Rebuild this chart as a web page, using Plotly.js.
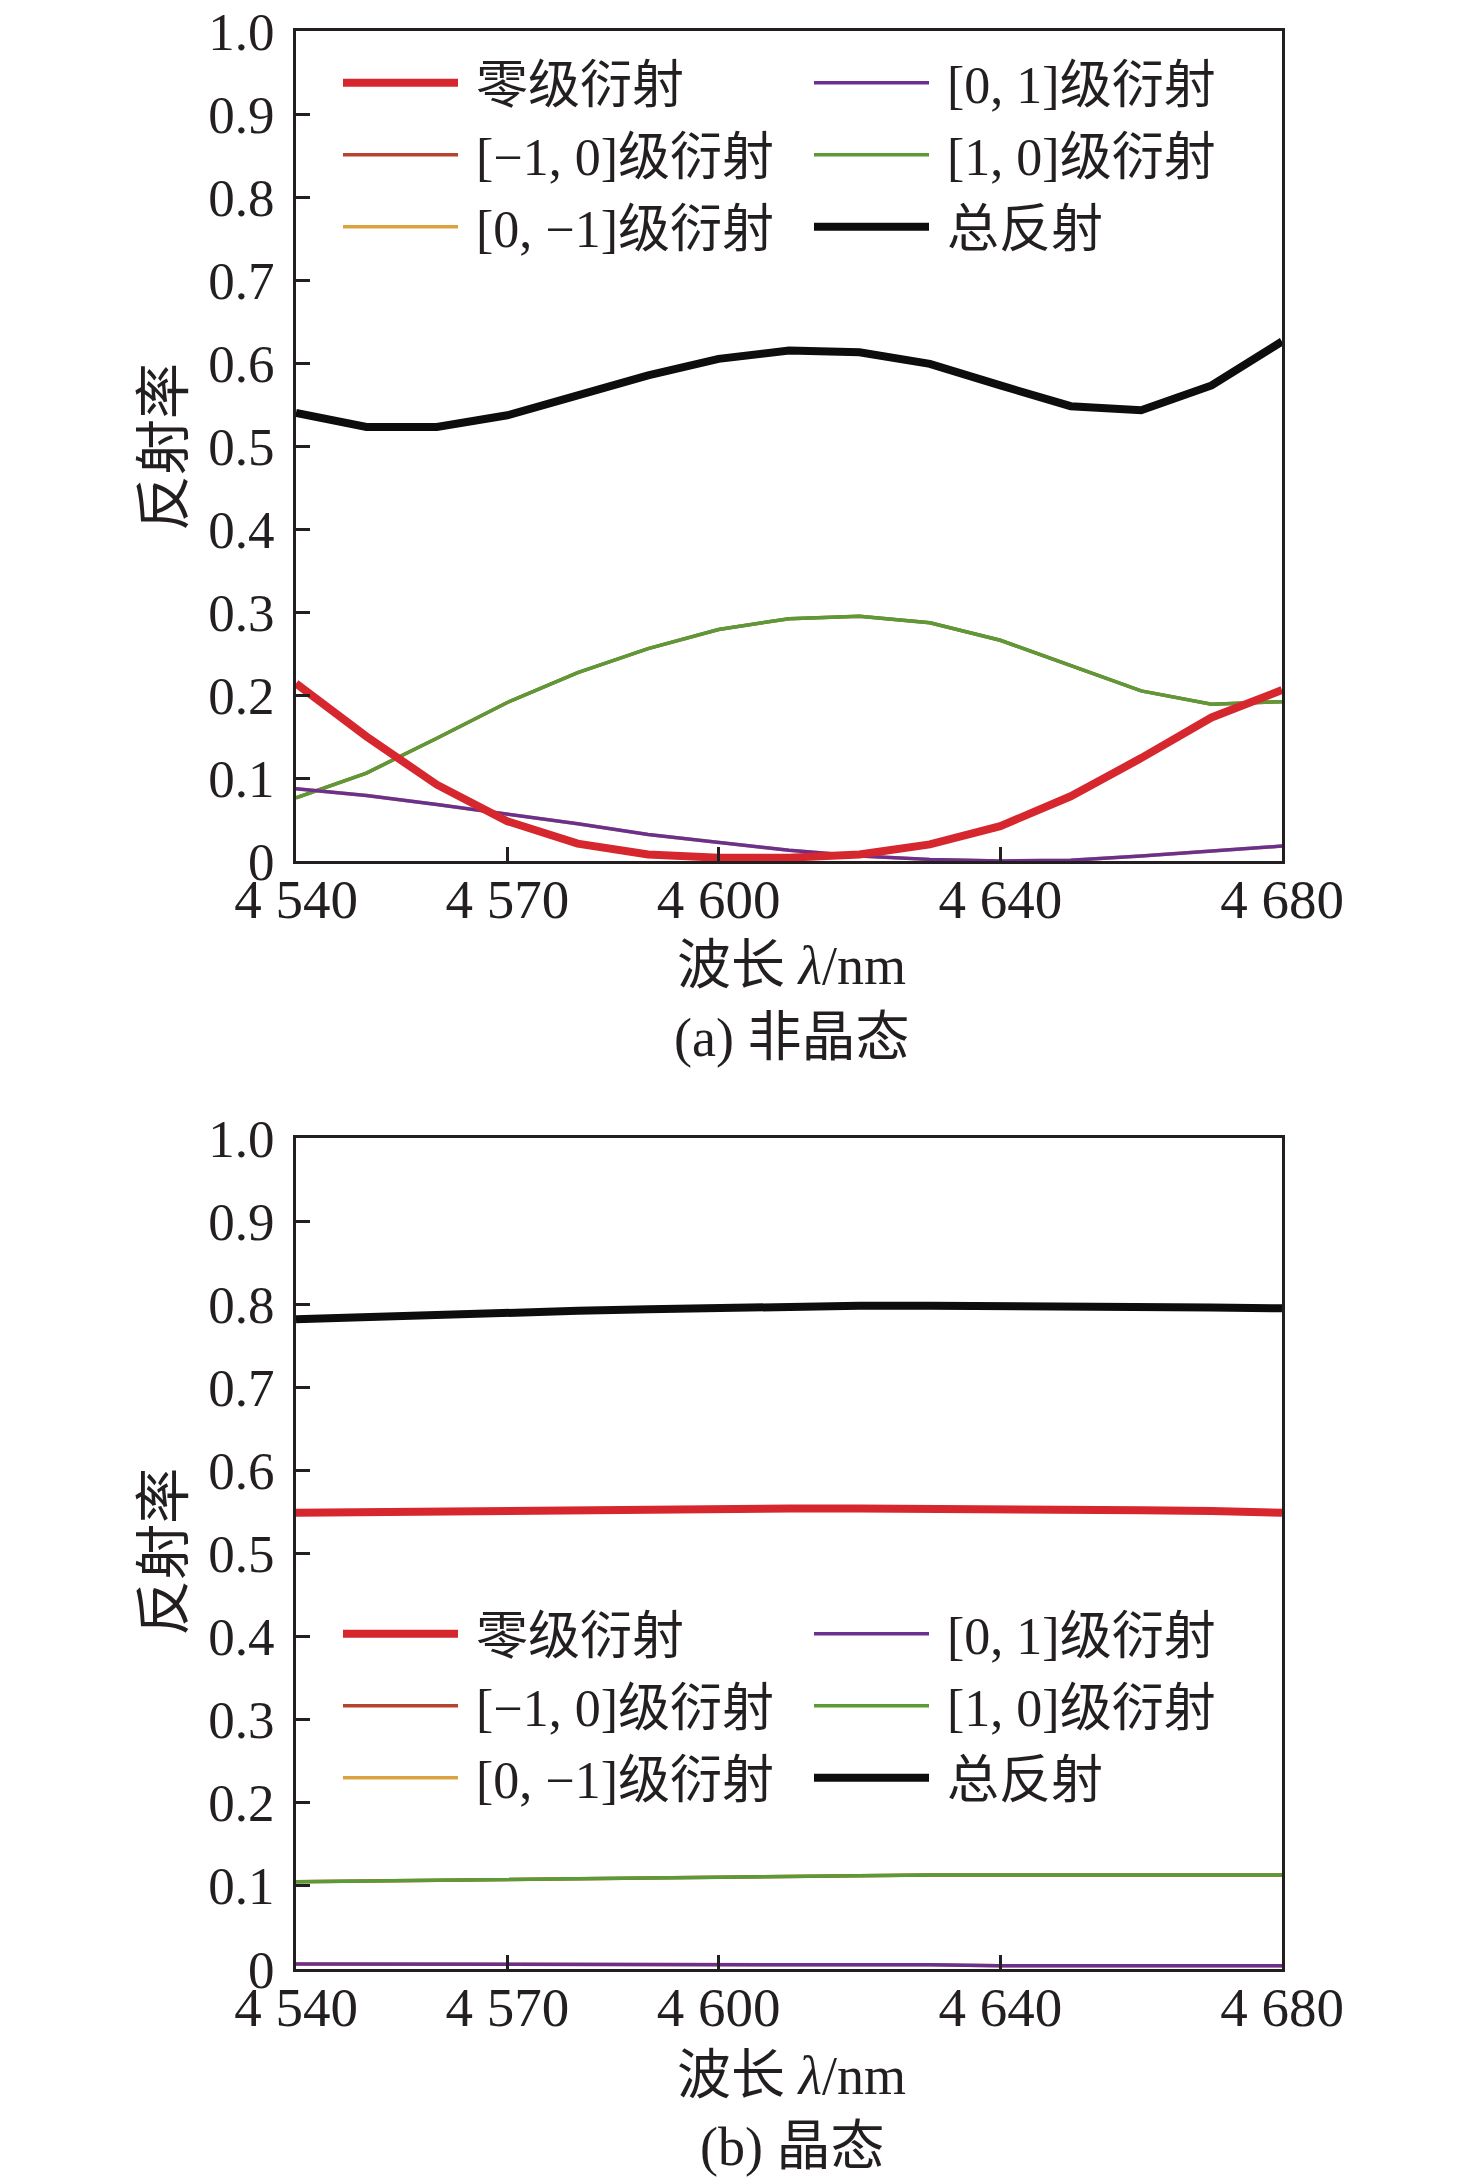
<!DOCTYPE html>
<html>
<head>
<meta charset="utf-8">
<script src="https://cdn.plot.ly/plotly-3.0.1.min.js"></script>
<style>
  html, body { margin: 0; padding: 0; background: #ffffff; }
  #data { width: 1476px; height: 2184px; }
</style>
</head>
<body>
<div id="data"></div>
<script>
// wavelength samples, nm
var wavelength = [4540, 4550, 4560, 4570, 4580, 4590, 4600, 4610, 4620, 4630, 4640, 4650, 4660, 4670, 4680];

// (a) amorphous
var amorZero = [0.214, 0.150, 0.092, 0.048, 0.021, 0.008, 0.004, 0.004, 0.008, 0.020, 0.042, 0.078, 0.124, 0.173, 0.206];
var amorM10 = [0.076, 0.106, 0.148, 0.191, 0.227, 0.256, 0.279, 0.292, 0.295, 0.287, 0.266, 0.236, 0.205, 0.189, 0.192];
var amorP10 = [0.076, 0.106, 0.148, 0.191, 0.227, 0.256, 0.279, 0.292, 0.295, 0.287, 0.266, 0.236, 0.205, 0.189, 0.192];
var amorM01 = [0.087, 0.079, 0.068, 0.057, 0.045, 0.032, 0.022, 0.013, 0.006, 0.002, 0.000, 0.001, 0.006, 0.012, 0.018];
var amorP01 = [0.087, 0.079, 0.068, 0.057, 0.045, 0.032, 0.022, 0.013, 0.006, 0.002, 0.000, 0.001, 0.006, 0.012, 0.018];
var amorTotal = [0.540, 0.523, 0.523, 0.537, 0.561, 0.585, 0.605, 0.615, 0.613, 0.599, 0.573, 0.548, 0.543, 0.573, 0.626];

// (b) crystalline
var crysZero = [0.549, 0.550, 0.551, 0.552, 0.552, 0.553, 0.553, 0.554, 0.554, 0.554, 0.554, 0.553, 0.552, 0.551, 0.549];
var crysM10 = [0.105, 0.106, 0.107, 0.108, 0.109, 0.110, 0.111, 0.112, 0.112, 0.113, 0.113, 0.113, 0.113, 0.113, 0.113];
var crysP10 = [0.105, 0.106, 0.107, 0.108, 0.109, 0.110, 0.111, 0.112, 0.112, 0.113, 0.113, 0.113, 0.113, 0.113, 0.113];
var crysM01 = [0.006, 0.006, 0.006, 0.006, 0.005, 0.005, 0.005, 0.005, 0.005, 0.005, 0.004, 0.004, 0.004, 0.004, 0.004];
var crysP01 = [0.006, 0.006, 0.006, 0.006, 0.005, 0.005, 0.005, 0.005, 0.005, 0.005, 0.004, 0.004, 0.004, 0.004, 0.004];
var crysTotal = [0.782, 0.785, 0.788, 0.790, 0.792, 0.794, 0.796, 0.797, 0.798, 0.798, 0.798, 0.798, 0.797, 0.796, 0.795];

var seriesNames = ['零级衍射', '[0, 1]级衍射', '[\u22121, 0]级衍射', '[1, 0]级衍射', '[0, \u22121]级衍射', '总反射'];
var xTickVals = [4540, 4570, 4600, 4640, 4680];
var xTickText = ['4 540', '4 570', '4 600', '4 640', '4 680'];
var yTickVals = [0, 0.1, 0.2, 0.3, 0.4, 0.5, 0.6, 0.7, 0.8, 0.9, 1.0];
var yTickText = ['0', '0.1', '0.2', '0.3', '0.4', '0.5', '0.6', '0.7', '0.8', '0.9', '1.0'];
var xTitle = '波长 <i>λ</i>/nm';
var yTitle = '反射率';
var captions = ['(a) 非晶态', '(b) 晶态'];

var inkColor = '#231f20';
var serifFont = 'Liberation Serif, Times New Roman, Noto Sans CJK SC, serif';

// name index -> colour, width, legend row, rank
var styles = [
  { color: '#d7272e', width: 8, row: 0, rank: 1 },
  { color: '#6b2f8f', width: 3.5, row: 0, rank: 2 },
  { color: '#b6432f', width: 3.5, row: 1, rank: 3 },
  { color: '#5b9b35', width: 3.5, row: 1, rank: 4 },
  { color: '#dba33f', width: 3.5, row: 2, rank: 5 },
  { color: '#0d0d0d', width: 8, row: 2, rank: 6 }
];

function build_trace(nameIdx, values, panel) {
  var style = styles[nameIdx];
  var legendNum = panel * 3 + style.row + 1;
  return {
    x: wavelength,
    y: values,
    type: 'scatter',
    mode: 'lines',
    name: '\u00a0' + seriesNames[nameIdx],
    xaxis: panel === 0 ? 'x' : 'x2',
    yaxis: panel === 0 ? 'y' : 'y2',
    legend: legendNum === 1 ? 'legend' : 'legend' + legendNum,
    legendrank: style.rank,
    line: { color: style.color, width: style.width },
    hoverinfo: 'x+y+name'
  };
}

// drawing order: faint orders first, zero order and total on top
function build_panel(panel, zero, m10, p10, m01, p01, total) {
  return [
    build_trace(2, m10, panel),
    build_trace(3, p10, panel),
    build_trace(4, m01, panel),
    build_trace(1, p01, panel),
    build_trace(0, zero, panel),
    build_trace(5, total, panel)
  ];
}

var traces = build_panel(0, amorZero, amorM10, amorP10, amorM01, amorP01, amorTotal)
  .concat(build_panel(1, crysZero, crysM10, crysP10, crysM01, crysP01, crysTotal));

function build_xaxis(anchor) {
  return {
    anchor: anchor,
    domain: [0, 1],
    range: [4540, 4680],
    tickmode: 'array',
    tickvals: xTickVals,
    ticktext: xTickText,
    ticks: 'inside',
    ticklen: 14,
    tickwidth: 3,
    tickcolor: inkColor,
    ticklabelstandoff: -12,
    showline: true,
    linewidth: 3,
    linecolor: inkColor,
    mirror: true,
    showgrid: false,
    zeroline: false,
    automargin: false,
    tickfont: { family: serifFont, size: 55, color: inkColor }
  };
}

function build_yaxis(anchor, domain) {
  return {
    anchor: anchor,
    domain: domain,
    range: [0, 1],
    tickmode: 'array',
    tickvals: yTickVals,
    ticktext: yTickText,
    ticks: 'inside',
    ticklen: 14,
    tickwidth: 3,
    tickcolor: inkColor,
    ticklabelstandoff: 8,
    showline: true,
    linewidth: 3,
    linecolor: inkColor,
    mirror: true,
    showgrid: false,
    zeroline: false,
    automargin: false,
    tickfont: { family: serifFont, size: 53, color: inkColor }
  };
}

function build_legend(yPos) {
  return {
    orientation: 'h',
    x: 0.0426,
    xanchor: 'left',
    y: yPos,
    yanchor: 'middle',
    itemwidth: 115,
    entrywidth: 341,
    entrywidthmode: 'pixels',
    bgcolor: 'rgba(0,0,0,0)',
    borderwidth: 0,
    itemclick: false,
    itemdoubleclick: false,
    font: { family: serifFont, size: 52, color: inkColor }
  };
}

function build_label(text, x, y, size, angle) {
  return {
    text: text,
    xref: 'paper',
    yref: 'paper',
    x: x,
    y: y,
    xanchor: 'center',
    yanchor: 'middle',
    showarrow: false,
    textangle: angle,
    font: { family: serifFont, size: size, color: inkColor }
  };
}

var layout = {
  width: 1476,
  height: 2184,
  margin: { l: 296, r: 194, t: 31, b: 215, pad: 0 },
  paper_bgcolor: '#ffffff',
  plot_bgcolor: '#ffffff',
  showlegend: true,
  xaxis: build_xaxis('y'),
  yaxis: build_yaxis('x', [0.5717, 1]),
  xaxis2: build_xaxis('y2'),
  yaxis2: build_yaxis('x2', [0, 0.4288]),
  legend: build_legend(0.9732),
  legend2: build_legend(0.9360),
  legend3: build_legend(0.8989),
  legend4: build_legend(0.1729),
  legend5: build_legend(0.1357),
  legend6: build_legend(0.0986),
  annotations: [
    build_label(yTitle, -0.134, 0.7853, 56, -90),
    build_label(xTitle, 0.503, 0.5175, 54, 0),
    build_label(captions[0], 0.503, 0.4804, 54, 0),
    build_label(yTitle, -0.134, 0.2152, 56, -90),
    build_label(xTitle, 0.503, -0.0552, 54, 0),
    build_label(captions[1], 0.503, -0.0919, 54, 0)
  ]
};

var config = {
  responsive: false,
  displayModeBar: false
};

Plotly.newPlot('data', traces, layout, config);
</script>
</body>
</html>
